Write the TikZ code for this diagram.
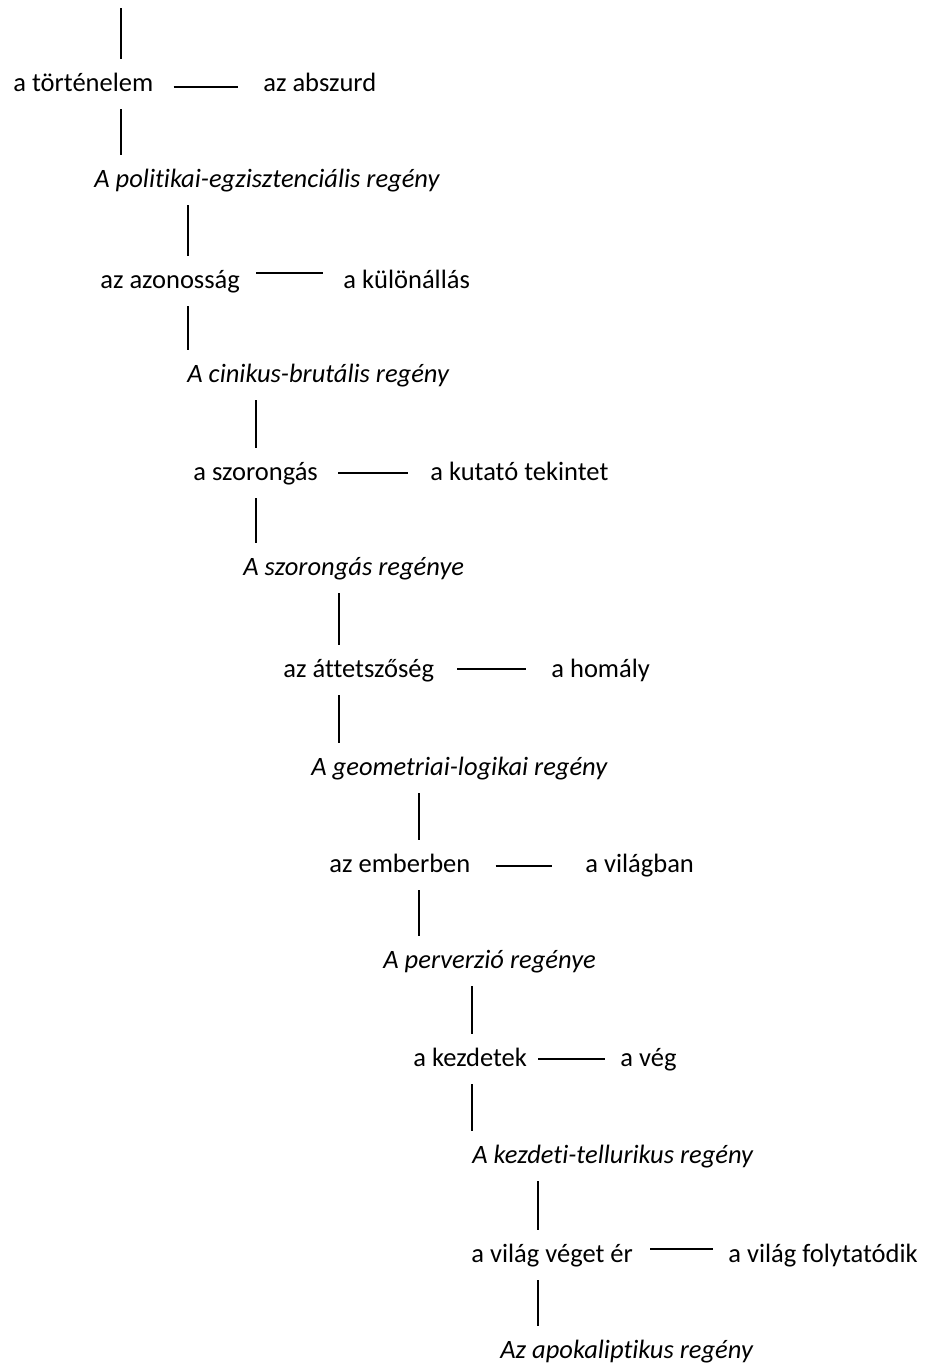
\documentclass[tikz,border=0pt]{standalone}
\usepackage{fontspec}
\setmainfont{Carlito}[Ligatures={NoCommon}]
\usepackage{tikz}
\usetikzlibrary{calc}

\begin{document}
\begin{tikzpicture}[x=0.5pt,y=-0.5pt]
    \tikzstyle{text node}=[anchor=base west,inner sep=0,text height=16pt,text depth=9pt,font=\fontsize{13.25pt}{16pt}\selectfont]
    \tikzstyle{novel node}=[text node,font=\fontsize{13.25pt}{16pt}\selectfont\itshape]
    \tikzstyle{link edge}=[draw,line width=1.1pt]
    \useasboundingbox (0,0) rectangle (928,1366);

    \coordinate (top) at (121,8);

    % rows: left term, right term, novel
    \node(a1)[text node] at (13,91) {a történelem};
    \node(r1)[text node] at (263,91) {az abszurd};
    \node(i1)[novel node] at (94,187) {A politikai-egzisztenciális regény};

    \node(a2)[text node] at (100,288) {az azonosság};
    \node(r2)[text node] at (343,288) {a különállás};
    \node(i2)[novel node] at (187,382) {A cinikus-brutális regény};

    \node(a3)[text node] at (193,480) {a szorongás};
    \node(r3)[text node] at (430,480) {a kutató tekintet};
    \node(i3)[novel node] at (243,575) {A szorongás regénye};

    \node(a4)[text node] at (283,677) {az áttetszőség};
    \node(r4)[text node] at (551,677) {a homály};
    \node(i4)[novel node] at (311,775) {A geometriai-logikai regény};

    \node(a5)[text node] at (329,872) {az emberben};
    \node(r5)[text node] at (585,872) {a világban};
    \node(i5)[novel node] at (383,968) {A perverzió regénye};

    \node(a6)[text node] at (413,1066) {a kezdetek};
    \node(r6)[text node] at (620,1066) {a vég};
    \node(i6)[novel node] at (472,1163) {A kezdeti-tellurikus regény};

    \node(a7)[text node] at (471,1262) {a világ véget ér};
    \node(r7)[text node] at (728,1262) {a világ folytatódik};
    \node(i7)[novel node] at (500,1358) {Az apokaliptikus regény};

    % vertical links
    \draw[link edge] (top) -- (a1.north -| top);
    \draw[link edge] (a1.south -| top) -- (i1.north -| top);
    \draw[link edge] (i1.south -| 188,0) -- (a2.north -| 188,0);
    \draw[link edge] (a2.south -| 188,0) -- (i2.north -| 188,0);
    \draw[link edge] (i2.south -| 256,0) -- (a3.north -| 256,0);
    \draw[link edge] (a3.south -| 256,0) -- (i3.north -| 256,0);
    \draw[link edge] (i3.south -| 339,0) -- (a4.north -| 339,0);
    \draw[link edge] (a4.south -| 339,0) -- (i4.north -| 339,0);
    \draw[link edge] (i4.south -| 419,0) -- (a5.north -| 419,0);
    \draw[link edge] (a5.south -| 419,0) -- (i5.north -| 419,0);
    \draw[link edge] (i5.south -| 472,0) -- (a6.north -| 472,0);
    \draw[link edge] (a6.south -| 472,0) -- (i6.north -| 472,0);
    \draw[link edge] (i6.south -| 538,0) -- (a7.north -| 538,0);
    \draw[link edge] (a7.south -| 538,0) -- (i7.north -| 538,0);

    % horizontal links
    \draw[link edge] ([xshift=10pt,yshift=2pt]a1.base east) -- ([xshift=-12.5pt,yshift=2pt]r1.base west);
    \draw[link edge] ([xshift=8pt,yshift=7.5pt]a2.base east) -- ([xshift=-10pt,yshift=7.5pt]r2.base west);
    \draw[link edge] ([xshift=10pt,yshift=3.5pt]a3.base east) -- ([xshift=-11pt,yshift=3.5pt]r3.base west);
    \draw[link edge] ([xshift=11.5pt,yshift=4pt]a4.base east) -- ([xshift=-12.5pt,yshift=4pt]r4.base west);
    \draw[link edge] ([xshift=12.5pt,yshift=3pt]a5.base east) -- ([xshift=-16.5pt,yshift=3pt]r5.base west);
    \draw[link edge] ([xshift=5.5pt,yshift=3.5pt]a6.base east) -- ([xshift=-7.5pt,yshift=3.5pt]r6.base west);
    \draw[link edge] ([xshift=8.5pt,yshift=6.5pt]a7.base east) -- ([xshift=-7.5pt,yshift=6.5pt]r7.base west);
\end{tikzpicture}
\end{document}
